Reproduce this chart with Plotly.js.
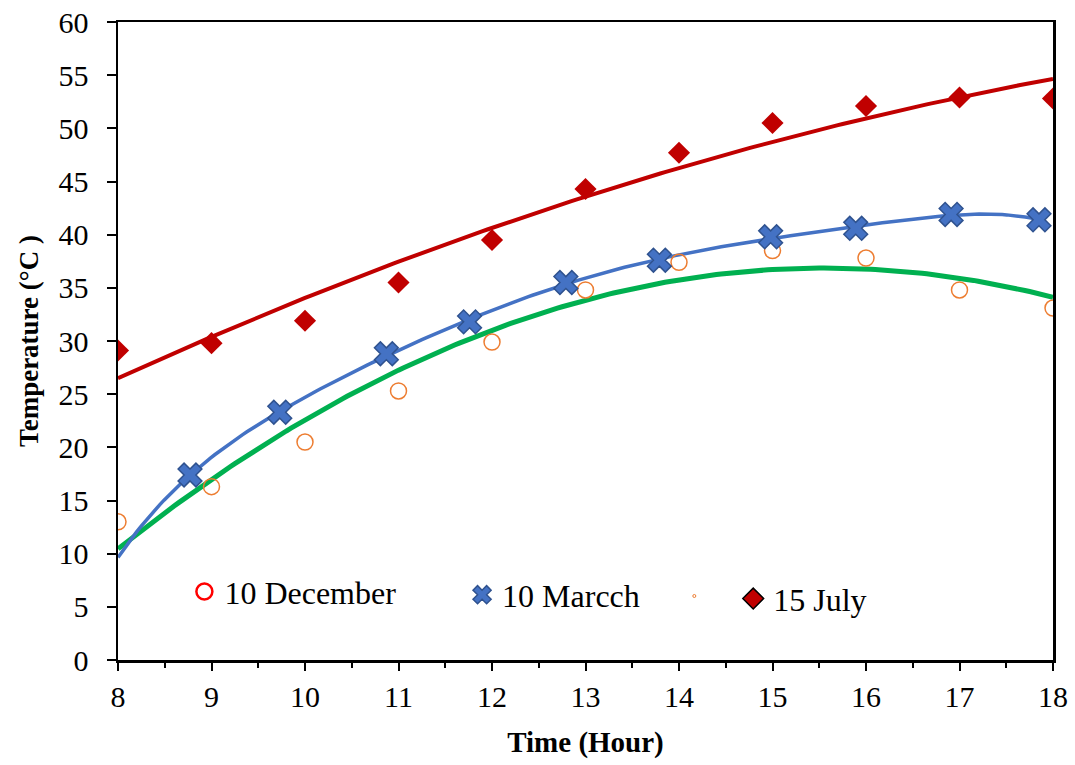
<!DOCTYPE html>
<html>
<head>
<meta charset="utf-8">
<script src="https://cdn.plot.ly/plotly-3.0.1.min.js"></script>
<style>html,body{margin:0;padding:0;background:#fff;}#chart{width:1075px;height:765px;}</style>
</head>
<body>
<div id="chart"></div>
<script>
// ---- data ----
const hours = [8, 9, 10, 11, 12, 13, 14, 15, 16, 17, 18];
const decemberTemp = [13.0, 16.3, 20.5, 25.3, 29.9, 34.8, 37.4, 38.5, 37.8, 34.8, 33.1];
const julyTemp = [29.1, 29.8, 31.9, 35.5, 39.5, 44.3, 47.7, 50.5, 52.1, 52.9, 52.8];
const marchHours = [8.77, 9.73, 10.87, 11.76, 12.79, 13.79, 14.98, 15.89, 16.91, 17.85];
const marchTemp = [17.4, 23.3, 28.8, 31.8, 35.5, 37.6, 39.8, 40.6, 41.9, 41.4];
const xTicks = [8, 9, 10, 11, 12, 13, 14, 15, 16, 17, 18];
const yTicks = [0, 5, 10, 15, 20, 25, 30, 35, 40, 45, 50, 55, 60];

// ---- least-squares polynomial trendline (as the spreadsheet did) ----
function polyFit(xs, ys, order) {
  const n = order + 1;
  const A = [];
  for (let i = 0; i < n; i++) { A.push(new Array(n + 1).fill(0)); }
  for (let k = 0; k < xs.length; k++) {
    const t = xs[k] - 8;
    for (let i = 0; i < n; i++) {
      for (let j = 0; j < n; j++) A[i][j] += Math.pow(t, i + j);
      A[i][n] += ys[k] * Math.pow(t, i);
    }
  }
  for (let c = 0; c < n; c++) {
    let p = c;
    for (let r = c + 1; r < n; r++) if (Math.abs(A[r][c]) > Math.abs(A[p][c])) p = r;
    [A[c], A[p]] = [A[p], A[c]];
    for (let r = 0; r < n; r++) {
      if (r === c) continue;
      const f = A[r][c] / A[c][c];
      for (let j = c; j <= n; j++) A[r][j] -= f * A[c][j];
    }
  }
  const coef = A.map((row, i) => row[n] / row[i]);
  return x => coef.reduce((s, a, i) => s + a * Math.pow(x - 8, i), 0);
}
function sampleFit(fn, x0, x1) {
  const xs = [], ys = [];
  for (let i = 0; i <= 200; i++) { const x = x0 + (x1 - x0) * i / 200; xs.push(x); ys.push(fn(x)); }
  return {xs, ys};
}
const decFit = sampleFit(polyFit(hours, decemberTemp, 2), 8, 18);
const julFit = sampleFit(polyFit(hours, julyTemp, 2), 8, 18);
const marFit = sampleFit(polyFit(marchHours, marchTemp, 6), 8, 17.85);

const serif = "Times New Roman, Liberation Serif, serif";

const traces = [
  {x: julFit.xs, y: julFit.ys, mode: 'lines', line: {color: '#C00000', width: 4}, showlegend: false, hoverinfo: 'skip'},
  {x: decFit.xs, y: decFit.ys, mode: 'lines', line: {color: '#00B050', width: 5}, showlegend: false, hoverinfo: 'skip'},
  {x: marFit.xs, y: marFit.ys, mode: 'lines', line: {color: '#4472C4', width: 3.5}, showlegend: false, hoverinfo: 'skip'},
  {x: hours, y: decemberTemp, mode: 'markers', name: '10 December',
   marker: {symbol: 'circle-open', size: 16, color: '#ED7D31', line: {width: 1.5, color: '#ED7D31'}}, showlegend: false},
  {x: marchHours, y: marchTemp, mode: 'markers', name: '10 Marcch',
   marker: {symbol: 'x', size: 21, color: '#4472C4', line: {width: 1.5, color: '#2F528F'}}, showlegend: false},
  {x: hours, y: julyTemp, mode: 'markers', name: '15 July',
   marker: {symbol: 'diamond', size: 17, color: '#C00000', line: {width: 0}}, showlegend: false},
  // legend entries
  {x: [null], y: [null], mode: 'markers', name: '10 December', legend: 'legend',
   marker: {symbol: 'circle-open', size: 16, color: '#FF0000', line: {width: 2.5, color: '#FF0000'}}},
  {x: [null], y: [null], mode: 'markers', name: '10 Marcch', legend: 'legend2',
   marker: {symbol: 'x', size: 16, color: '#4472C4', line: {width: 1.5, color: '#2F528F'}}},
  {x: [null], y: [null], mode: 'markers', name: ' ', legend: 'legend3',
   marker: {symbol: 'circle-open', size: 3, color: '#ED7D31', line: {width: 1, color: '#ED7D31'}}},
  {x: [null], y: [null], mode: 'markers', name: '15 July', legend: 'legend4',
   marker: {symbol: 'diamond', size: 16, color: '#C00000', line: {width: 1.5, color: '#000000'}}}
];

const legendBase = {orientation: 'h', yanchor: 'middle', xanchor: 'left', bgcolor: 'rgba(0,0,0,0)',
  font: {family: serif, size: 32, color: '#000'}, itemsizing: 'trace'};

const layout = {
  width: 1075, height: 765,
  margin: {l: 118, r: 22, t: 22, b: 105},
  paper_bgcolor: '#fff', plot_bgcolor: '#fff',
  font: {family: serif, color: '#000'},
  xaxis: {
    range: [8, 18], tickvals: xTicks, ticktext: xTicks.map(String),
    showgrid: false, zeroline: false,
    showline: true, linecolor: '#000', linewidth: 2.5, mirror: true,
    ticks: 'outside', ticklen: 8, tickwidth: 2, tickcolor: '#000',
    minor: {dtick: 0.5, ticks: 'outside', ticklen: 5, tickwidth: 2, tickcolor: '#000', showgrid: false},
    tickfont: {family: serif, size: 30, color: '#000'},
    title: {text: '<b>Time (Hour)</b>', font: {family: serif, size: 29, color: '#000'}, standoff: 20}
  },
  yaxis: {
    range: [0, 60], tickvals: yTicks, ticktext: yTicks.map(String),
    showgrid: false, zeroline: false,
    showline: true, linecolor: '#000', linewidth: 2.5, mirror: true,
    ticks: 'outside', ticklen: 9, tickwidth: 2, tickcolor: '#000', ticklabelstandoff: 12,
    tickfont: {family: serif, size: 30, color: '#000'},
    title: {text: '<b>Temperature (°C )</b>', font: {family: serif, size: 27, color: '#000'}, standoff: 12}
  },
  legend: Object.assign({}, legendBase, {x: 0.071, y: 0.107}),
  legend2: Object.assign({}, legendBase, {x: 0.368, y: 0.102}),
  legend3: Object.assign({}, legendBase, {x: 0.595, y: 0.10}),
  legend4: Object.assign({}, legendBase, {x: 0.658, y: 0.096}),
  showlegend: true
};

Plotly.newPlot('chart', traces, layout, {displayModeBar: false, staticPlot: true});
</script>
</body>
</html>
